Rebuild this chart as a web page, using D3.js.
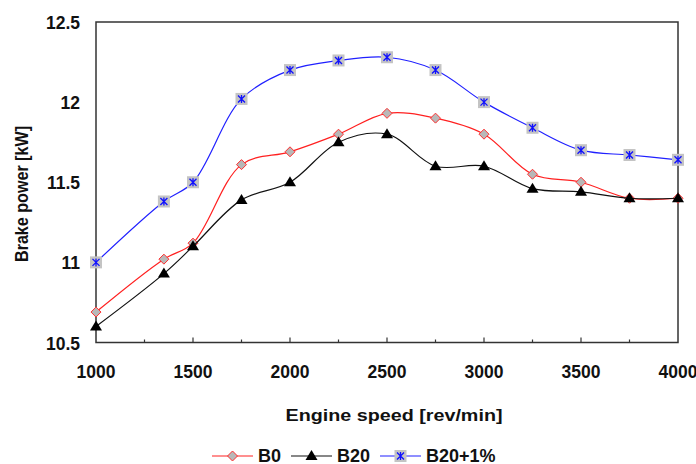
<!DOCTYPE html>
<html lang="en">
<head>
<meta charset="utf-8">
<title>Brake power vs engine speed</title>
<script src="https://cdnjs.cloudflare.com/ajax/libs/d3/7.8.5/d3.min.js"></script>
<style>
  body { margin: 0; background: #fff; }
  text { font-family: "Liberation Sans", Arial, sans-serif; font-weight: bold; fill: #111; }
</style>
</head>
<body>
<script>
// data
var speeds = [1000, 1350, 1500, 1750, 2000, 2250, 2500, 2750, 3000, 3250, 3500, 3750, 4000];
var b0    = [10.69, 11.02, 11.12, 11.61, 11.69, 11.8, 11.93, 11.9, 11.8, 11.55, 11.5, 11.4, 11.4];
var b20   = [10.6, 10.93, 11.1, 11.39, 11.5, 11.75, 11.8, 11.6, 11.6, 11.46, 11.44, 11.4, 11.4];
var b20p  = [11.0, 11.38, 11.5, 12.02, 12.2, 12.26, 12.28, 12.2, 12.0, 11.84, 11.7, 11.67, 11.64];
var xTicks = [1000, 1500, 2000, 2500, 3000, 3500, 4000];
var yTicks = [10.5, 11, 11.5, 12, 12.5];

var w = 696, h = 464;
var pL = 96, pR = 678, pT = 22, pB = 342.5;

var svg = d3.select("body").append("svg")
  .attr("width", w)
  .attr("height", h);

var x = d3.scaleLinear().domain([1000, 4000]).range([pL, pR]);
var y = d3.scaleLinear().domain([10.5, 12.5]).range([pB, pT]);

// plot frame
svg.append("rect")
  .attr("x", pL).attr("y", pT)
  .attr("width", pR - pL).attr("height", pB - pT)
  .attr("fill", "none").attr("stroke", "#333").attr("stroke-width", 1.5);

// x ticks point inward, every 250
svg.selectAll("line.xt")
  .data(d3.range(1250, 4000, 250))
  .enter().append("line")
  .attr("x1", function(d) { return x(d); })
  .attr("x2", function(d) { return x(d); })
  .attr("y1", pB)
  .attr("y2", function(d) { return d % 500 == 0 ? pB - 5 : pB - 3; })
  .attr("stroke", "#333").attr("stroke-width", 1.2);

svg.selectAll("text.xl")
  .data(xTicks)
  .enter().append("text")
  .attr("x", function(d) { return x(d); })
  .attr("y", 378)
  .attr("text-anchor", "middle")
  .attr("font-size", "17.5px")
  .text(function(d) { return d; });

svg.selectAll("text.yl")
  .data(yTicks)
  .enter().append("text")
  .attr("x", 80)
  .attr("y", function(d) { return y(d) + 7; })
  .attr("text-anchor", "end")
  .attr("font-size", "17.5px")
  .text(function(d) { return d; });

svg.append("text")
  .attr("x", 394).attr("y", 421)
  .attr("text-anchor", "middle")
  .attr("font-size", "17px")
  .attr("textLength", 217)
  .attr("lengthAdjust", "spacingAndGlyphs")
  .text("Engine speed [rev/min]");

svg.append("text")
  .attr("transform", "translate(27.5,194) rotate(-90)")
  .attr("text-anchor", "middle")
  .attr("font-size", "18px")
  .attr("textLength", 136)
  .attr("lengthAdjust", "spacingAndGlyphs")
  .text("Brake power [kW]");

var line = d3.line()
  .x(function(d) { return x(d[0]); })
  .y(function(d) { return y(d[1]); })
  .curve(d3.curveCatmullRom.alpha(0.5));

var series = [
  { name: "B0", vals: b0, color: "#ff2020", marker: "diamond" },
  { name: "B20", vals: b20, color: "#111", marker: "triangle" },
  { name: "B20+1%", vals: b20p, color: "#2020ff", marker: "star" }
];

function drawMarker(g, type, cx, cy) {
  if (type == "diamond") {
    g.append("path")
      .attr("d", "M" + cx + "," + (cy - 5) + "L" + (cx + 5) + "," + cy + "L" + cx + "," + (cy + 5) + "L" + (cx - 5) + "," + cy + "Z")
      .attr("fill", "#b8b8b8").attr("stroke", "#ff3030").attr("stroke-width", 1);
  } else if (type == "triangle") {
    g.append("path")
      .attr("d", "M" + cx + "," + (cy - 6) + "L" + (cx + 6) + "," + (cy + 4) + "L" + (cx - 6) + "," + (cy + 4) + "Z")
      .attr("fill", "#000");
  } else {
    g.append("rect")
      .attr("x", cx - 6).attr("y", cy - 6).attr("width", 12).attr("height", 12)
      .attr("fill", "#c4c4c4");
    var s = 3.5;
    g.append("path")
      .attr("d", "M" + (cx - s) + "," + (cy - s) + "L" + (cx + s) + "," + (cy + s) +
                 "M" + (cx + s) + "," + (cy - s) + "L" + (cx - s) + "," + (cy + s) +
                 "M" + cx + "," + (cy - 4) + "L" + cx + "," + (cy + 4))
      .attr("stroke", "#1010ff").attr("stroke-width", 1.3);
  }
}

series.forEach(function(s) {
  var pts = speeds.map(function(v, i) { return [v, s.vals[i]]; });
  svg.append("path")
    .datum(pts)
    .attr("d", line)
    .attr("fill", "none")
    .attr("stroke", s.color)
    .attr("stroke-width", 1.2);
  var g = svg.append("g");
  pts.forEach(function(p) { drawMarker(g, s.marker, x(p[0]), y(p[1])); });
});

// legend
var legX = [212, 291, 380];
series.forEach(function(s, i) {
  var lx = legX[i];
  svg.append("line")
    .attr("x1", lx).attr("x2", lx + 41)
    .attr("y1", 456).attr("y2", 456)
    .attr("stroke", s.color).attr("stroke-width", 1.2);
  drawMarker(svg, s.marker, lx + 20.5, 456);
  svg.append("text")
    .attr("x", lx + 46).attr("y", 461.5)
    .attr("font-size", "18px")
    .text(s.name);
});
</script>
</body>
</html>
